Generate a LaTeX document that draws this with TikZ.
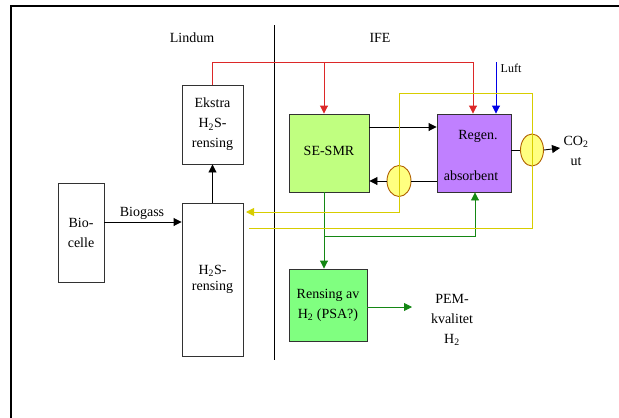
\documentclass[tikz,border=0pt]{standalone}
\usepackage{fontspec}
\setmainfont{Liberation Serif}
\usetikzlibrary{arrows.meta,shapes.geometric}
\definecolor{redl}{RGB}{220,40,40}
\definecolor{yel}{RGB}{215,205,0}
\definecolor{grn}{RGB}{20,135,20}
\definecolor{blu}{RGB}{0,0,230}
\definecolor{sefill}{RGB}{192,255,128}
\definecolor{regfill}{RGB}{192,128,255}
\definecolor{rensfill}{RGB}{128,255,128}
\definecolor{ellfill}{RGB}{255,255,128}
\definecolor{elldraw}{RGB}{176,96,0}
\definecolor{boxdraw}{RGB}{50,50,50}
\begin{document}
\begin{tikzpicture}[x=1pt,y=-1pt,
  every node/.style={font=\fontsize{14}{20}\selectfont},
  box/.style={draw=boxdraw,line width=0.9pt,inner sep=0pt,align=center,anchor=center},
  ell/.style={ellipse,draw=elldraw,fill=ellfill,line width=0.9pt,inner sep=0pt},
  tip/.style={-{Triangle[length=8pt,width=8pt]}},
  ln/.style={line width=0.9pt}]
\useasboundingbox (0,0) rectangle (619,418);
% frame
\draw[line width=1.2pt] (11,418) -- (11,6) -- (619,6);
\draw[line width=0.9pt] (274,25) -- (274,360);
\node (lindum) at (192,38) {Lindum};
\node (ife) at (380,38) {IFE};
% boxes
\node[box,minimum width=46pt,minimum height=99pt] (bio) at (81,232.5) {Bio-\\celle};
\node[box,minimum width=61pt,minimum height=153pt] (h2s) at (212.5,279.5) {\raisebox{-8pt}{\shortstack{H\textsubscript{2}S-\\[2pt]rensing}}};
\node[box,minimum width=61pt,minimum height=79pt] (ekstra) at (212.5,124.5) {Ekstra\\H\textsubscript{2}S-\\rensing};
\node[box,fill=sefill,minimum width=80pt,minimum height=78pt] (sesmr) at (329,153) {\raisebox{5pt}{SE-SMR}};
\node[box,fill=regfill,minimum width=74pt,minimum height=78pt] (regen) at (474,153) {};
\node (regt) at (478,136) {Regen.};
\node (abst) at (471,176) {absorbent};
\node[box,fill=rensfill,minimum width=78pt,minimum height=72pt] (rens) at (328,305) {Rensing av\\H\textsubscript{2} (PSA?)};
\node[ell,minimum width=24pt,minimum height=31pt] (ellL) at (399,181) {};
\node[ell,minimum width=23pt,minimum height=32pt] (ellR) at (532,150) {};
% labels
\node (biogass) at (142,213) {Biogass};
\node (luftl) at (511,68) {\fontsize{12}{14}\selectfont Luft};
\node[align=center] (co2l) at (576,151) {CO\textsubscript{2}\\ut};
\node[align=center] (peml) at (452,320) {PEM-\\kvalitet\\H\textsubscript{2}};
% coordinates
\coordinate (rtop) at (473,62);
\coordinate (rbr) at (324,62);
\coordinate (luft) at (496,62);
\coordinate (co2) at (560,148);
\coordinate (gx) at (324,236);
\coordinate (gr) at (475,236);
\coordinate (pem) at (412,307);
\coordinate (ya) at (249,228);
\coordinate (yb) at (532,228);
\coordinate (yc) at (532,93.5);
\coordinate (yd) at (399,93.5);
\coordinate (ye) at (399,212);
\coordinate (yf) at (246,212);
% black connectors
\draw[ln,tip] (bio.east |- 0,222) -- (h2s.west |- 0,222);
\draw[ln,tip] (h2s.north) -- (ekstra.south);
\draw[ln,tip] (sesmr.east |- 0,127) -- (regen.west |- 0,127);
\draw[ln] (regen.west |- 0,181) -- (ellL.east);
\draw[ln,tip] (ellL.west) -- (sesmr.east |- 0,181);
\draw[ln] (regen.east |- 0,150) -- (ellR.west);
\draw[ln,tip] (ellR.east) -- (co2);
% red
\draw[ln,redl] (ekstra.north) -- (ekstra.north |- rtop) -- (rtop);
\draw[ln,redl,tip] (rtop) -- (rtop |- regen.north);
\draw[ln,redl,tip] (rbr) -- (rbr |- sesmr.north);
% blue
\draw[ln,blu,tip] (luft) -- (luft |- regen.north);
% green
\draw[ln,grn,tip] (sesmr.south -| gx) -- (gx |- rens.north);
\draw[ln,grn,tip] (gx) -- (gr) -- (gr |- regen.south);
\draw[ln,grn,tip] (rens.east |- pem) -- (pem);
% yellow
\draw[line width=1pt,yel,tip] (ya) -- (yb) -- (yc) -- (yd) -- (ye) -- (yf);
\end{tikzpicture}
\end{document}
